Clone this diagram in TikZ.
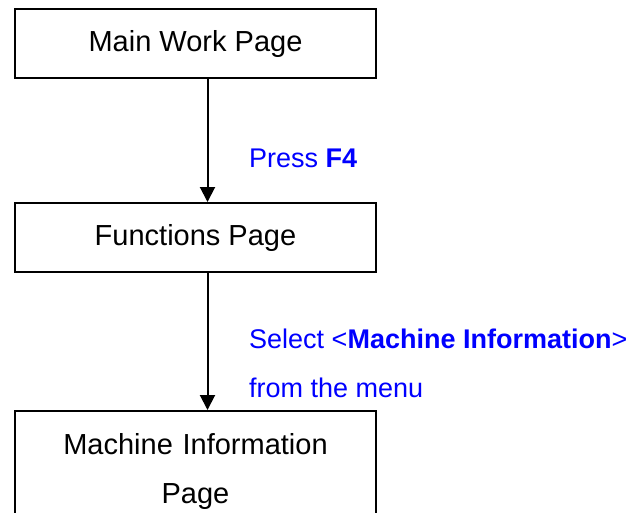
\documentclass[tikz,border=0pt]{standalone}
\usepackage{fontspec}
\setmainfont{Liberation Sans}
\usetikzlibrary{arrows.meta}
\definecolor{labelblue}{RGB}{0,0,255}
\begin{document}
\begin{tikzpicture}[x=1pt, y=-1pt,
    pagebox/.style={draw=black, line width=2pt, rectangle, minimum width=361pt, minimum height=69pt, font=\fontsize{29}{49}\selectfont},
    steplabel/.style={anchor=base west, inner sep=0pt, text=labelblue, font=\fontsize{27}{49}\selectfont},
    flow/.style={line width=2pt, -{Triangle[length=15pt, width=15pt]}}]
    \useasboundingbox (0,0) rectangle (639,512);
    %   Define the 3 pages one below the other
    \node[pagebox] (mainpage) at (195.5,43.5) {Main Work Page};
    \node[pagebox] (funcpage) at (195.5,237.5) {Functions Page};
    \node[pagebox, anchor=north, align=center, text width=340pt, inner ysep=22pt] (infopage) at (195.5,410) {Machine Information\\Page};
    %   Arrows and what to do at each step
    \draw[flow] ([xshift=12pt]mainpage.south) -- ([xshift=12pt]funcpage.north);
    \draw[flow] ([xshift=12pt]funcpage.south) -- ([xshift=12pt]infopage.north);
    \node[steplabel] (pressf4) at (249,167) {Press \textbf{F4}};
    \node[steplabel] (selectinfo) at (249,348) {Select <\textbf{Machine Information}>};
    \node[steplabel] (frommenu) at (249,397) {from the menu};
\end{tikzpicture}
\end{document}
